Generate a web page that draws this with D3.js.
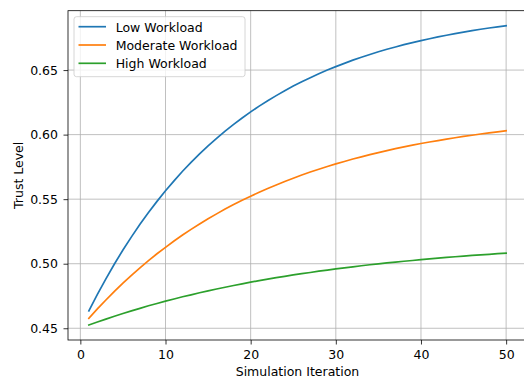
<!DOCTYPE html>
<html>
<head>
<meta charset="utf-8">
<script src="https://cdn.jsdelivr.net/npm/d3@7/dist/d3.min.js"></script>
<style>
  html, body { margin: 0; padding: 0; background: #fff; }
  svg { display: block; font-family: "DejaVu Sans", sans-serif; }
</style>
</head>
<body>
<svg id="chart" width="524" height="379"></svg>
<script>
const iterations = d3.range(1, 51);
const seriesNames = ['Low Workload', 'Moderate Workload', 'High Workload'];
const seriesColors = ['#1f77b4', '#ff7f0e', '#2ca02c'];

const lowWorkload = [
  0.4635, 0.4763, 0.4883, 0.4998, 0.5106, 0.5208, 0.5305, 0.5396, 0.5483, 0.5565,
  0.5642, 0.5716, 0.5785, 0.5851, 0.5913, 0.5971, 0.6027, 0.6079, 0.6129, 0.6176,
  0.6221, 0.6263, 0.6302, 0.6340, 0.6376, 0.6409, 0.6441, 0.6471, 0.6500, 0.6527,
  0.6552, 0.6577, 0.6599, 0.6621, 0.6642, 0.6661, 0.6679, 0.6697, 0.6713, 0.6728,
  0.6743, 0.6757, 0.6770, 0.6782, 0.6794, 0.6805, 0.6816, 0.6826, 0.6835, 0.6844
];
const moderateWorkload = [
  0.4577, 0.4650, 0.4719, 0.4786, 0.4850, 0.4910, 0.4968, 0.5024, 0.5077, 0.5127,
  0.5176, 0.5222, 0.5266, 0.5308, 0.5348, 0.5386, 0.5423, 0.5458, 0.5491, 0.5523,
  0.5554, 0.5583, 0.5610, 0.5637, 0.5662, 0.5687, 0.5710, 0.5732, 0.5753, 0.5773,
  0.5792, 0.5811, 0.5828, 0.5845, 0.5861, 0.5876, 0.5891, 0.5905, 0.5918, 0.5931,
  0.5943, 0.5954, 0.5965, 0.5976, 0.5986, 0.5995, 0.6005, 0.6014, 0.6022, 0.6030
];
const highWorkload = [
  0.4525, 0.4548, 0.4571, 0.4593, 0.4614, 0.4635, 0.4654, 0.4674, 0.4692, 0.4710,
  0.4727, 0.4744, 0.4759, 0.4775, 0.4790, 0.4804, 0.4818, 0.4831, 0.4844, 0.4857,
  0.4869, 0.4880, 0.4892, 0.4902, 0.4913, 0.4923, 0.4932, 0.4942, 0.4951, 0.4960,
  0.4968, 0.4976, 0.4984, 0.4992, 0.4999, 0.5006, 0.5013, 0.5019, 0.5025, 0.5032,
  0.5038, 0.5043, 0.5049, 0.5054, 0.5059, 0.5064, 0.5069, 0.5073, 0.5078, 0.5082
];

const xTicks = [0, 10, 20, 30, 40, 50];
const yTicks = [0.45, 0.50, 0.55, 0.60, 0.65];

const series = [lowWorkload, moderateWorkload, highWorkload];

const FONT_SIZE = '12.5px';
const margin = { left: 68, top: 10.7, right: 527, bottom: 340 };
const svg = d3.select('#chart');

// matplotlib-style 5% padding around the data
const xMin = d3.min(iterations), xMax = d3.max(iterations);
const xPad = (xMax - xMin) * 0.05;
const allY = series.flat();
const yMin = d3.min(allY), yMax = d3.max(allY);
const yPad = (yMax - yMin) * 0.05;

const x = d3.scaleLinear().domain([xMin - xPad, xMax + xPad]).range([margin.left, margin.right]);
const y = d3.scaleLinear().domain([yMin - yPad, yMax + yPad]).range([margin.bottom, margin.top]);

// grid
const grid = svg.append('g').attr('stroke', '#b0b0b0').attr('stroke-width', 0.8);
xTicks.forEach((t) => {
  grid.append('line').attr('x1', x(t)).attr('x2', x(t)).attr('y1', margin.top).attr('y2', margin.bottom);
});
yTicks.forEach((t) => {
  grid.append('line').attr('x1', margin.left).attr('x2', margin.right).attr('y1', y(t)).attr('y2', y(t));
});

// lines
const line = d3.line().x((d, i) => x(iterations[i])).y((d) => y(d));
series.forEach((values, i) => {
  svg.append('path')
    .datum(values)
    .attr('d', line)
    .attr('fill', 'none')
    .attr('stroke', seriesColors[i])
    .attr('stroke-width', 1.7)
    .attr('stroke-linecap', 'square');
});

// axes
const xAxis = svg.append('g')
  .attr('transform', `translate(0,${margin.bottom})`)
  .call(d3.axisBottom(x).tickValues(xTicks).tickSize(4.5).tickPadding(5.5).tickFormat(d3.format('d')));
const yAxis = svg.append('g')
  .attr('transform', `translate(${margin.left},0)`)
  .call(d3.axisLeft(y).tickValues(yTicks).tickSize(4.5).tickPadding(5.5).tickFormat(d3.format('.2f')));

[xAxis, yAxis].forEach((g) => {
  g.select('.domain').remove();
  g.selectAll('.tick line').attr('stroke', '#000').attr('stroke-width', 0.8);
  g.selectAll('.tick text').attr('fill', '#000').style('font-size', FONT_SIZE).style('font-family', '"DejaVu Sans", sans-serif');
});

// spines
svg.append('rect')
  .attr('x', margin.left).attr('y', margin.top)
  .attr('width', margin.right - margin.left).attr('height', margin.bottom - margin.top)
  .attr('fill', 'none').attr('stroke', '#000').attr('stroke-width', 0.8);

// axis labels
svg.append('text')
  .attr('x', (margin.left + margin.right) / 2).attr('y', 376)
  .attr('text-anchor', 'middle').attr('fill', '#000')
  .style('font-size', FONT_SIZE)
  .text('Simulation Iteration');
svg.append('text')
  .attr('transform', `translate(23,${(margin.top + margin.bottom) / 2}) rotate(-90)`)
  .attr('text-anchor', 'middle').attr('fill', '#000')
  .style('font-size', FONT_SIZE)
  .text('Trust Level');

// legend
const legend = svg.append('g');
legend.append('rect')
  .attr('x', 74).attr('y', 16.7).attr('width', 171).attr('height', 60)
  .attr('rx', 2.5)
  .attr('fill', 'rgba(255,255,255,0.8)').attr('stroke', '#cccccc').attr('stroke-width', 0.8);
seriesNames.forEach((name, i) => {
  const ly = 26.7 + i * 18.3;
  legend.append('line')
    .attr('x1', 78.5).attr('x2', 106).attr('y1', ly).attr('y2', ly)
    .attr('stroke', seriesColors[i]).attr('stroke-width', 1.7);
  legend.append('text')
    .attr('x', 115.7).attr('y', ly + 5)
    .attr('fill', '#000').style('font-size', FONT_SIZE)
    .text(name);
});
</script>
</body>
</html>
